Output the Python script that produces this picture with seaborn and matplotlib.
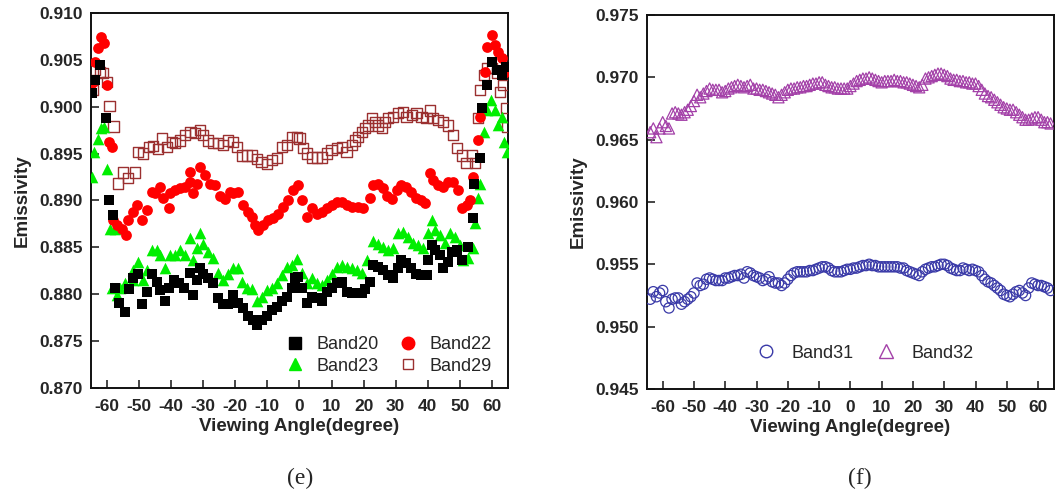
import matplotlib
matplotlib.use("Agg")
import matplotlib.pyplot as plt
from matplotlib.lines import Line2D
from matplotlib.ticker import FormatStrFormatter
import seaborn as sns
import pandas as pd

# ---------------- data: panel (e) ----------------
band20_angle = [-64.6,-63.7,-62.2,-60.4,-59.5,-58,-57.5,-56.4,-54.4,-53.3,
                -51.8,-50.2,-49.1,-47.5,-46,-44.4,-43.4,-41.8,-40.6,-39.2,
                -37.7,-36.1,-34.1,-33.1,-31.8,-31,-30,-28.5,-26.9,-25.3,
                -23.8,-22.2,-20.7,-19.1,-17.6,-16,-14.4,-13.3,-11.7,-10.2,
                -8.6,-7,-5.5,-3.9,-2.3,-1.4,-0.4,0.7,2.3,3.8,
                5.4,7,8.5,10.1,11.6,13.2,14.7,16.3,17.8,19.5,
                20.4,21.9,22.9,24.5,26,27.6,29.2,30.7,31.8,33.3,
                34.9,36.4,38,39.6,40,41.2,42.2,43.8,44.8,46.2,
                47.5,49,50.6,52.5,54,54.3,56.4,56.8,58.5,60,
                61.5,63,64.3]
band20_value = [0.9015,0.9028,0.9044,0.8988,0.8901,0.8884,0.8807,0.8791,0.8781,0.8806,
                0.8817,0.8822,0.8790,0.8802,0.8822,0.8813,0.8804,0.8793,0.8807,0.8815,
                0.8812,0.8807,0.8823,0.8799,0.8815,0.8828,0.8822,0.8817,0.8812,0.8796,
                0.8790,0.8790,0.8799,0.8791,0.8785,0.8777,0.8772,0.8767,0.8772,0.8777,
                0.8783,0.8786,0.8793,0.8797,0.8807,0.8817,0.8818,0.8807,0.8791,0.8797,
                0.8796,0.8793,0.8802,0.8807,0.8812,0.8813,0.8802,0.8801,0.8801,0.8801,
                0.8806,0.8813,0.8831,0.8829,0.8826,0.8820,0.8817,0.8828,0.8836,0.8833,
                0.8828,0.8822,0.8820,0.8820,0.8836,0.8852,0.8847,0.8842,0.8828,0.8834,
                0.8845,0.8847,0.8836,0.8850,0.8881,0.8918,0.8945,0.8999,0.9023,0.9048,
                0.9039,0.9034,0.9042]

band22_angle = [-64.6,-63.6,-62.8,-61.9,-61,-60,-59.5,-58.5,-58,-57,
                -55.3,-54,-53.4,-51.8,-50.7,-49.1,-47.5,-46,-44.9,-43.4,
                -42.4,-40.6,-40.3,-38.8,-37.2,-35.6,-34.1,-34,-33.1,-31.8,
                -31,-29.4,-27.8,-26.3,-24.7,-23.2,-21.6,-20.8,-19.2,-17.6,
                -16,-14.8,-13.8,-12.8,-11.3,-9.7,-8.2,-6.6,-5.1,-3.5,
                -1.9,-0.4,0.7,2.3,3.8,5.4,7,8.5,10.1,11.6,
                13.2,14.7,16.3,18.3,19.8,21.9,22.9,24.5,26,27.2,
                28.7,30.3,31.8,33.3,34.9,36.4,38,39,40.6,41.6,
                43.2,44.7,46.3,47.8,49.4,50.6,52.1,53.3,54,55.6,
                56.3,57.8,58.5,60,60.9,61.9,63,63.9]
band22_value = [0.9025,0.9048,0.9063,0.9074,0.9068,0.9023,0.8962,0.8957,0.8879,0.8874,
                0.8870,0.8863,0.8879,0.8888,0.8895,0.8879,0.8890,0.8909,0.8908,0.8914,
                0.8903,0.8892,0.8908,0.8911,0.8913,0.8914,0.8920,0.8930,0.8908,0.8918,
                0.8936,0.8927,0.8918,0.8916,0.8905,0.8902,0.8909,0.8908,0.8909,0.8895,
                0.8888,0.8882,0.8874,0.8868,0.8874,0.8879,0.8881,0.8886,0.8893,0.8900,
                0.8911,0.8916,0.8900,0.8882,0.8892,0.8886,0.8888,0.8892,0.8895,0.8898,
                0.8898,0.8895,0.8893,0.8893,0.8892,0.8903,0.8916,0.8918,0.8913,0.8905,
                0.8902,0.8911,0.8916,0.8914,0.8909,0.8903,0.8900,0.8897,0.8929,0.8922,
                0.8916,0.8914,0.8920,0.8920,0.8911,0.8892,0.8895,0.8900,0.8925,0.8964,
                0.8989,0.9037,0.9064,0.9076,0.9066,0.9058,0.9052,0.9036]

band23_angle = [-64.6,-63.9,-62.9,-62,-61,-59.9,-59.1,-57.5,-58.5,-57,
                -56,-54.4,-52,-51.8,-50.2,-48.7,-47.5,-46,-44.4,-43.4,
                -41.8,-40.3,-38.8,-37.2,-35.6,-34.1,-33.1,-31.8,-31,-30,
                -28.5,-26.9,-25.3,-23.8,-22.2,-20.7,-19.1,-18,-16.5,-14.8,
                -13.3,-11.7,-10.2,-8.6,-7,-5.5,-3.9,-2.3,-0.9,0.7,
                2.3,3.8,5.4,7,8.5,10.1,11.6,13.2,14.7,16.3,
                17.8,19.5,20.9,22.9,24.5,26,27.6,29.2,30.7,32.3,
                33.8,35.4,36.9,38.5,40,41.2,42.2,43.8,45.3,46.9,
                48.4,50,51,52.5,54,54.7,55.6,56.3,57.5,58.4,
                59.6,60.9,61.9,63,63.6,64.6]
band23_value = [0.8925,0.8952,0.8966,0.8977,0.8978,0.8934,0.8870,0.8870,0.8807,0.8799,
                0.8807,0.8812,0.8815,0.8826,0.8834,0.8815,0.8826,0.8847,0.8847,0.8842,
                0.8828,0.8842,0.8842,0.8847,0.8842,0.8860,0.8836,0.8849,0.8865,0.8854,
                0.8845,0.8839,0.8823,0.8815,0.8822,0.8828,0.8828,0.8813,0.8807,0.8806,
                0.8793,0.8797,0.8804,0.8807,0.8812,0.8820,0.8829,0.8831,0.8838,0.8823,
                0.8812,0.8817,0.8812,0.8810,0.8815,0.8822,0.8829,0.8831,0.8829,0.8828,
                0.8826,0.8823,0.8836,0.8857,0.8854,0.8850,0.8847,0.8849,0.8865,0.8866,
                0.8861,0.8855,0.8852,0.8849,0.8865,0.8879,0.8868,0.8863,0.8855,0.8865,
                0.8861,0.8852,0.8836,0.8839,0.8849,0.8876,0.8903,0.8918,0.8973,0.8996,
                0.9007,0.8996,0.8980,0.8989,0.8962,0.8952]

band29_angle = [-64.5,-63.7,-62.2,-61.2,-60,-59.2,-58,-56.5,-55,-53.4,
                -51.2,-50.3,-48.7,-47,-45.6,-44,-42.8,-41.3,-39.7,-38.8,
                -37.2,-35.7,-34,-32.5,-31,-30,-28.5,-27,-25.4,-23.8,
                -22.3,-20.7,-19.4,-18,-16.4,-14.8,-13.3,-11.8,-10.2,-8.6,
                -7,-5.5,-4,-2.4,-0.8,0,1.1,2.3,3.9,5.4,
                7,8.5,10,11.6,13.2,14.7,16.3,17.3,18.3,19.5,
                20.4,21.4,22.5,23.5,24.5,25.7,26.7,27.7,29.2,30.7,
                32.3,33.4,35,36.5,38,39.6,40.7,41.6,43.2,44.7,
                46.2,47.8,49,50.6,52.1,53.7,54.7,55.6,56.2,57.5,
                58.4,60,61.5,62.5,63.4,64.3,64.6]
band29_value = [0.9018,0.9039,0.9037,0.9036,0.9026,0.9001,0.8979,0.8918,0.8930,0.8924,
                0.8930,0.8952,0.8950,0.8957,0.8958,0.8955,0.8966,0.8957,0.8962,0.8961,
                0.8964,0.8970,0.8973,0.8972,0.8975,0.8970,0.8964,0.8961,0.8961,0.8959,
                0.8964,0.8962,0.8957,0.8948,0.8948,0.8948,0.8944,0.8941,0.8939,0.8943,
                0.8945,0.8957,0.8959,0.8968,0.8968,0.8966,0.8956,0.8950,0.8946,0.8946,
                0.8946,0.8950,0.8954,0.8956,0.8957,0.8952,0.8959,0.8964,0.8968,0.8973,
                0.8977,0.8980,0.8988,0.8984,0.8980,0.8977,0.8984,0.8988,0.8989,0.8993,
                0.8994,0.8989,0.8991,0.8993,0.8989,0.8988,0.8996,0.8988,0.8986,0.8984,
                0.8980,0.8970,0.8956,0.8948,0.8940,0.8948,0.8940,0.8988,0.9018,0.9034,
                0.9041,0.9041,0.9036,0.9016,0.9023,0.8999,0.8978]

# ---------------- data: panel (f) ----------------
angle_f = list(range(-64, 65))
band31_value = [0.9522,0.9528,0.9524,0.9527,0.9529,0.9520,0.9515,0.9522,0.9523,0.9523,
                0.9518,0.9520,0.9522,0.9524,0.9527,0.9535,0.9533,0.9534,0.9538,0.9539,
                0.9538,0.9537,0.9537,0.9537,0.9539,0.9539,0.9540,0.9541,0.9541,0.9542,
                0.9539,0.9544,0.9543,0.9541,0.9540,0.9539,0.9537,0.9538,0.9540,0.9536,
                0.9535,0.9535,0.9533,0.9535,0.9538,0.9541,0.9543,0.9544,0.9544,0.9544,
                0.9544,0.9545,0.9545,0.9546,0.9547,0.9548,0.9548,0.9547,0.9545,0.9544,
                0.9544,0.9544,0.9545,0.9546,0.9546,0.9547,0.9547,0.9548,0.9549,0.9549,
                0.9550,0.9549,0.9549,0.9548,0.9548,0.9548,0.9548,0.9548,0.9548,0.9548,
                0.9547,0.9547,0.9545,0.9544,0.9543,0.9542,0.9541,0.9544,0.9546,0.9547,
                0.9548,0.9548,0.9549,0.9550,0.9550,0.9549,0.9547,0.9546,0.9545,0.9545,
                0.9547,0.9546,0.9545,0.9546,0.9545,0.9544,0.9541,0.9538,0.9536,0.9535,
                0.9533,0.9531,0.9529,0.9526,0.9525,0.9524,0.9526,0.9528,0.9529,0.9527,
                0.9525,0.9531,0.9535,0.9534,0.9533,0.9533,0.9532,0.9531,0.9529]
band32_value = [0.9656,0.9659,0.9652,0.9659,0.9664,0.9661,0.9659,0.9671,0.9672,0.9671,
                0.9670,0.9672,0.9674,0.9677,0.9681,0.9686,0.9684,0.9687,0.9689,0.9691,
                0.9690,0.9690,0.9690,0.9688,0.9689,0.9691,0.9692,0.9693,0.9694,0.9693,
                0.9692,0.9693,0.9694,0.9691,0.9691,0.9690,0.9690,0.9689,0.9688,0.9687,
                0.9686,0.9684,0.9686,0.9688,0.9690,0.9691,0.9691,0.9692,0.9692,0.9693,
                0.9693,0.9694,0.9695,0.9695,0.9696,0.9696,0.9694,0.9693,0.9692,0.9692,
                0.9691,0.9691,0.9691,0.9691,0.9693,0.9695,0.9697,0.9698,0.9699,0.9699,
                0.9700,0.9699,0.9698,0.9697,0.9696,0.9697,0.9697,0.9697,0.9698,0.9697,
                0.9697,0.9696,0.9696,0.9695,0.9694,0.9693,0.9692,0.9694,0.9699,0.9700,
                0.9701,0.9702,0.9703,0.9703,0.9702,0.9701,0.9699,0.9698,0.9698,0.9697,
                0.9697,0.9696,0.9696,0.9695,0.9695,0.9693,0.9690,0.9687,0.9685,0.9684,
                0.9682,0.9680,0.9678,0.9676,0.9675,0.9674,0.9674,0.9672,0.9670,0.9668,
                0.9666,0.9666,0.9667,0.9668,0.9668,0.9666,0.9664,0.9664,0.9663]

x_ticks = [-60, -50, -40, -30, -20, -10, 0, 10, 20, 30, 40, 50, 60]
y_ticks_e = [0.870, 0.875, 0.880, 0.885, 0.890, 0.895, 0.900, 0.905, 0.910]
y_ticks_f = [0.945, 0.950, 0.955, 0.960, 0.965, 0.970, 0.975]

# ---------------- style ----------------
sns.set_theme(style="white")
plt.rcParams['font.family'] = ['Liberation Sans', 'DejaVu Sans']
plt.rcParams['axes.unicode_minus'] = False

C20, C22, C23, C29 = '#000000', '#ff0000', '#00ee00', '#9b3030'
C31, C32 = '#3a3aa8', '#a340a8'

fig = plt.figure(figsize=(10.59, 4.93), dpi=100)
ax1 = fig.add_axes([0.0859, 0.213, 0.3938, 0.7607])
ax2 = fig.add_axes([0.611, 0.211, 0.384, 0.7586])


def scatter(ax, x, y, marker, color, size, hollow=False, lw=1.0):
    df = pd.DataFrame({'angle': x, 'value': y})
    sns.scatterplot(data=df, x='angle', y='value', ax=ax, marker=marker,
                    color=color, s=size, linewidth=0 if not hollow else lw,
                    legend=False, zorder=3)
    coll = ax.collections[-1]
    if hollow:
        coll.set_facecolor('none')
        coll.set_edgecolor(color)
        coll.set_linewidth(lw)


scatter(ax1, band29_angle, band29_value, 's', C29, 55, hollow=True, lw=1.0)
scatter(ax1, band23_angle, band23_value, '^', C23, 70)
scatter(ax1, band22_angle, band22_value, 'o', C22, 60)
scatter(ax1, band20_angle, band20_value, 's', C20, 45)

scatter(ax2, angle_f, band31_value, 'o', C31, 55, hollow=True, lw=0.9)
scatter(ax2, angle_f, band32_value, '^', C32, 65, hollow=True, lw=0.9)

for ax, yt, ylim in [(ax1, y_ticks_e, (0.870, 0.910)), (ax2, y_ticks_f, (0.945, 0.975))]:
    ax.set_xlim(-65, 65)
    ax.set_ylim(*ylim)
    ax.set_xticks(x_ticks)
    ax.set_yticks(yt)
    ax.yaxis.set_major_formatter(FormatStrFormatter('%.3f'))
    ax.tick_params(axis='both', direction='in', length=6, width=1.2, labelsize=12.5,
                   bottom=True, left=True, top=False, right=False)
    ax.tick_params(axis='x', pad=8)
    ax.tick_params(axis='y', pad=6)
    for lab in ax.get_xticklabels() + ax.get_yticklabels():
        lab.set_fontweight('bold')
    for sp in ax.spines.values():
        sp.set_visible(True)
        sp.set_color('#111111')
        sp.set_linewidth(1.4)
    ax.set_xlabel('Viewing Angle(degree)', fontsize=13.5, fontweight='bold', labelpad=3)
    ax.set_ylabel('Emissivity', fontsize=13.5, fontweight='bold', labelpad=6)
    ax.grid(False)

# legends (row-wise order: Band20, Band22 / Band23, Band29)
h20 = Line2D([], [], ls='none', marker='s', ms=8, mfc=C20, mec=C20)
h22 = Line2D([], [], ls='none', marker='o', ms=9, mfc=C22, mec=C22)
h23 = Line2D([], [], ls='none', marker='^', ms=9, mfc=C23, mec=C23)
h29 = Line2D([], [], ls='none', marker='s', ms=7, mfc='none', mec=C29, mew=1.0)
ax1.legend([h20, h23, h22, h29], ['Band20', 'Band23', 'Band22', 'Band29'], ncol=2,
           frameon=False, loc='lower right', bbox_to_anchor=(1.0, -0.008), fontsize=13,
           handletextpad=0.6, columnspacing=1.0, labelspacing=0.25, handlelength=1.2)

h_f = [Line2D([], [], ls='none', marker='o', ms=9, mfc='none', mec=C31, mew=1.0),
       Line2D([], [], ls='none', marker='^', ms=10, mfc='none', mec=C32, mew=1.0)]
ax2.legend(h_f, ['Band31', 'Band32'], ncol=2, frameon=False,
           loc='lower center', bbox_to_anchor=(0.535, 0.03), fontsize=13,
           handletextpad=0.8, columnspacing=1.2, handlelength=1.2)

fig.text(0.2833, 0.03, '(e)', ha='center', va='center', fontsize=17,
         family=['Liberation Serif', 'DejaVu Serif'])
fig.text(0.812, 0.03, '(f)', ha='center', va='center', fontsize=17,
         family=['Liberation Serif', 'DejaVu Serif'])

fig.savefig('out.png', dpi=100)
